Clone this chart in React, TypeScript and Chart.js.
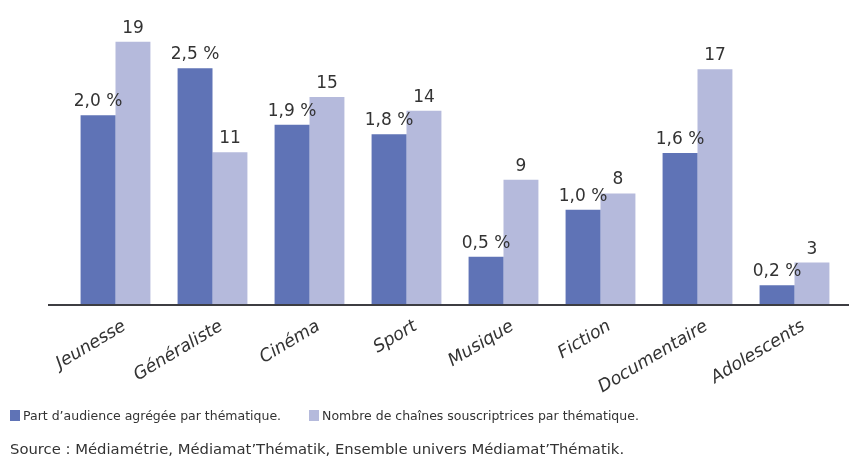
import React, { useEffect, useRef } from "react";
import { Chart, registerables } from "chart.js";

Chart.register(...registerables);

const categories = ["Jeunesse", "Généraliste", "Cinéma", "Sport", "Musique", "Fiction", "Documentaire", "Adolescents"];
const audienceShare = [2.0, 2.5, 1.9, 1.8, 0.5, 1.0, 1.6, 0.2];
const channelCount = [19, 11, 15, 14, 9, 8, 17, 3];
const seriesNames = ["Part d’audience agrégée par thématique.", "Nombre de chaînes souscriptrices par thématique."];
const sourceText = "Source : Médiamétrie, Médiamat’Thématik, Ensemble univers Médiamat’Thématik.";

const DARK = "#5F73B6";
const LIGHT = "#B5BADC";
const TEXT = "#333333";
const FONT = "'DejaVu Sans', sans-serif";

const valueLabels = {
  id: "valueLabels",
  afterDatasetsDraw(chart: any) {
    const ctx = chart.ctx;
    ctx.save();
    ctx.font = `17px ${FONT}`;
    ctx.fillStyle = TEXT;
    ctx.textAlign = "center";
    ctx.textBaseline = "bottom";
    chart.data.datasets.forEach((ds: any, di: number) => {
      const meta = chart.getDatasetMeta(di);
      meta.data.forEach((bar: any, i: number) => {
        const v = ds.data[i];
        const txt = di === 0 ? v.toFixed(1).replace(".", ",") + " %" : String(v);
        ctx.fillText(txt, bar.x, bar.y - 5);
      });
    });
    ctx.restore();
  },
};

const baseLine = {
  id: "baseLine",
  afterDatasetsDraw(chart: any) {
    const ctx = chart.ctx;
    const y = chart.chartArea.bottom + 1;
    ctx.save();
    ctx.strokeStyle = "#3d3d42";
    ctx.lineWidth = 2;
    ctx.beginPath();
    ctx.moveTo(48, y);
    ctx.lineTo(chart.width, y);
    ctx.stroke();
    ctx.restore();
  },
};

export default function App() {
  const ref = useRef<HTMLCanvasElement | null>(null);

  useEffect(() => {
    if (!ref.current) return;
    const chart = new Chart(ref.current, {
      type: "bar",
      data: {
        labels: categories,
        datasets: [
          { label: seriesNames[0], data: audienceShare, backgroundColor: DARK, yAxisID: "y", categoryPercentage: 0.72, barPercentage: 1 },
          { label: seriesNames[1], data: channelCount, backgroundColor: LIGHT, yAxisID: "y1", categoryPercentage: 0.72, barPercentage: 1 },
        ],
      },
      options: {
        animation: false,
        responsive: false,
        maintainAspectRatio: false,
        layout: { padding: { left: 67, right: 6, top: 21, bottom: 0 } },
        plugins: { legend: { display: false }, tooltip: { enabled: false }, title: { display: false } },
        scales: {
          x: {
            offset: true,
            grid: { display: false, drawTicks: false },
            border: { display: false },
            afterFit: (scale: any) => {
              scale.height = 153;
            },
            ticks: {
              autoSkip: false,
              minRotation: 31,
              maxRotation: 31,
              padding: 12,
              labelOffset: 9,
              color: TEXT,
              font: { family: FONT, size: 17.5, style: "italic" },
            },
          },
          y: { display: false, min: 0, max: 3.0 },
          y1: { display: false, min: 0, max: 20.5 },
        },
      },
      plugins: [valueLabels, baseLine],
    });
    return () => chart.destroy();
  }, []);

  const legendItem = (color: string, text: string, gap: number) => (
    <span style={{ display: "inline-flex", alignItems: "center", marginRight: gap }}>
      <span style={{ display: "inline-block", width: 10, height: 11, background: color, marginRight: 3 }} />
      <span>{text}</span>
    </span>
  );

  return (
    <div style={{ position: "fixed", left: 0, top: 0, width: 849, height: 457, background: "#fff", fontFamily: FONT, color: TEXT }}>
      <canvas ref={ref} width={849} height={457} style={{ position: "absolute", left: 0, top: 0 }} />
      <div style={{ position: "absolute", left: 10, top: 408, fontSize: 12.5, whiteSpace: "nowrap", display: "flex" }}>
        {legendItem(DARK, seriesNames[0], 28)}
        {legendItem(LIGHT, seriesNames[1], 0)}
      </div>
      <div style={{ position: "absolute", left: 10, top: 440, fontSize: 14.8, whiteSpace: "nowrap" }}>{sourceText}</div>
    </div>
  );
}
